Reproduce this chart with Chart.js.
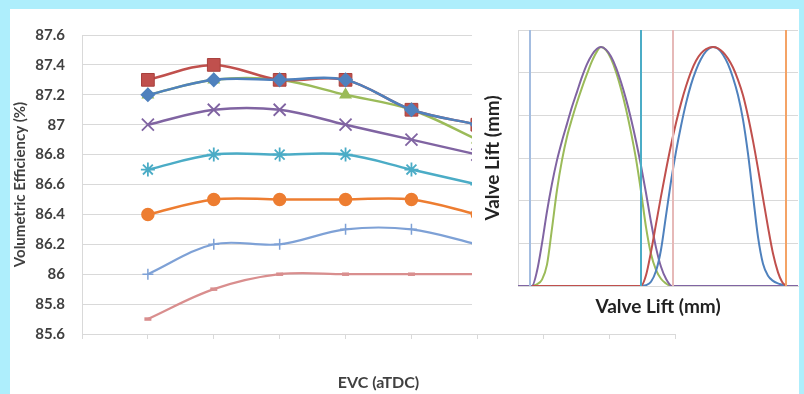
<!DOCTYPE html>
<html><head><meta charset="utf-8">
<script src="https://cdn.jsdelivr.net/npm/chart.js@4/dist/chart.umd.min.js"></script>
<style>
html,body{margin:0;padding:0;background:#aeeefc;width:804px;height:394px;overflow:hidden}
#panel{position:absolute;left:10px;top:9px;width:789px;height:385px;background:#fff}
#main{position:absolute;left:0;top:0}
#insetBox{position:absolute;left:462px;top:0;width:327px;height:318px;background:#fff}
</style></head><body>
<div id="panel">
  <canvas id="main" width="789" height="385"></canvas>
  <div id="insetBox"><canvas id="inset" width="327" height="318"></canvas></div>
</div>
<script>
// ---- main chart data ----
const evcPositions = [1, 2, 3, 4, 5, 6];
const seriesBlueDiamond = [87.2, 87.3, 87.3, 87.3, 87.1, 87.0];
const seriesRedSquare   = [87.3, 87.4, 87.3, 87.3, 87.1, 87.0];
const seriesGreenTri    = [87.2, 87.3, 87.3, 87.2, 87.1, 86.9];
const seriesPurpleX     = [87.0, 87.1, 87.1, 87.0, 86.9, 86.8];
const seriesTealStar    = [86.7, 86.8, 86.8, 86.8, 86.7, 86.6];
const seriesOrangeDot   = [86.4, 86.5, 86.5, 86.5, 86.5, 86.4];
const seriesLightBlue   = [86.0, 86.2, 86.2, 86.3, 86.3, 86.2];
const seriesPink        = [85.7, 85.9, 86.0, 86.0, 86.0, 86.0];
const yMin = 85.6, yMax = 87.6, yStep = 0.2;

// ---- inset (valve lift) data ----
const purpleLiftX = [0, 14, 19, 24, 29, 34, 39, 44, 49, 54, 59, 64, 69, 74, 79, 83, 88, 93, 98, 103, 108, 113, 118, 123, 128, 133, 138, 143, 148, 154, 280];
const purpleLiftY = [0, 0, 0.35, 1.0, 1.75, 2.4, 2.95, 3.4, 3.8, 4.2, 4.55, 4.9, 5.2, 5.42, 5.56, 5.6, 5.54, 5.38, 5.12, 4.78, 4.38, 3.92, 3.4, 2.82, 2.18, 1.5, 0.9, 0.45, 0.17, 0, 0];
const greenLiftX  = [14, 19, 24, 29, 34, 39, 44, 49, 54, 59, 64, 69, 74, 79, 83, 88, 93, 98, 103, 108, 113, 118, 123, 128, 133, 138, 143, 148, 152];
const greenLiftY  = [0, 0.04, 0.15, 0.5, 1.35, 2.25, 2.95, 3.5, 3.92, 4.3, 4.65, 4.97, 5.27, 5.5, 5.6, 5.53, 5.33, 5.02, 4.62, 4.15, 3.6, 2.98, 2.22, 1.38, 0.75, 0.38, 0.17, 0.06, 0];
const redLiftX    = [14, 123, 128, 133, 138, 143, 148, 153, 158, 163, 168, 173, 178, 183, 188, 195, 200, 205, 210, 215, 220, 225, 230, 235, 240, 245, 250, 255, 260, 264, 268];
const redLiftY    = [0, 0, 0.25, 0.8, 1.45, 2.1, 2.72, 3.3, 3.82, 4.28, 4.68, 5.02, 5.28, 5.45, 5.55, 5.6, 5.57, 5.48, 5.33, 5.12, 4.83, 4.47, 3.98, 3.4, 2.75, 2.06, 1.38, 0.76, 0.32, 0.1, 0];
const blueLiftX   = [123, 128, 133, 138, 143, 148, 153, 158, 163, 168, 173, 178, 183, 188, 195, 200, 205, 210, 215, 220, 225, 230, 235, 240, 245, 250, 255, 260, 264, 268];
const blueLiftY   = [0, 0.02, 0.1, 0.35, 0.85, 1.65, 2.45, 3.15, 3.75, 4.28, 4.72, 5.06, 5.32, 5.5, 5.6, 5.56, 5.42, 5.2, 4.88, 4.47, 3.9, 3.1, 2.12, 1.15, 0.52, 0.24, 0.12, 0.06, 0.03, 0];
const timingMarks = [12, 123, 155, 268];
const timingColors = ['#a4bde0', '#4bacc6', '#e6b9b8', '#f4a366'];
const liftMax = 6;

const FONT = 'Lato, "Open Sans", sans-serif';
const TXT = '#404040';
const GRID = '#d9d9d9';

function pts(ys) { return ys.map((v, i) => ({x: evcPositions[i], y: v})); }
function xy(xs, ys) { return xs.map((v, i) => ({x: v, y: ys[i]})); }

function mainDs(label, ys, color, style, radius, extra) {
  return Object.assign({
    label, data: pts(ys), borderColor: color, backgroundColor: color,
    pointBackgroundColor: color, pointBorderColor: color,
    pointStyle: style, pointRadius: radius, pointHoverRadius: radius,
    borderWidth: 2.5, pointBorderWidth: 1.5, tension: 0.35, fill: false
  }, extra || {});
}

new Chart(document.getElementById('main'), {
  type: 'line',
  data: {
    datasets: [
      mainDs('Blue', seriesBlueDiamond, '#4f81bd', 'rectRot', 6.5),
      mainDs('Red', seriesRedSquare, '#c0504d', 'rect', 9, {pointBorderColor: '#a8403d', pointBorderWidth: 1}),
      mainDs('Green', seriesGreenTri, '#9bbb59', 'triangle', 6),
      mainDs('Purple', seriesPurpleX, '#8064a2', 'crossRot', 8.5, {pointBorderWidth: 1.8}),
      mainDs('Teal', seriesTealStar, '#4bacc6', 'star', 7, {pointBorderWidth: 1.8}),
      mainDs('Orange', seriesOrangeDot, '#ed7d31', 'circle', 6),
      mainDs('LightBlue', seriesLightBlue, '#7ea1d6', 'cross', 5.5, {borderWidth: 2.2, pointBorderWidth: 1.5}),
      mainDs('Pink', seriesPink, '#d98e8e', 'line', 3.5, {borderWidth: 2.2, pointBorderWidth: 3.5})
    ]
  },
  options: {
    responsive: false, animation: false, devicePixelRatio: 1,
    layout: {padding: {top: 16, right: 124, left: 0, bottom: 0}},
    plugins: {legend: {display: false}, tooltip: {enabled: false}},
    scales: {
      x: {
        type: 'linear', min: 0, max: 9,
        ticks: {stepSize: 1, display: false},
        grid: {drawOnChartArea: false, drawTicks: true, tickLength: 5, color: GRID},
        border: {color: GRID},
        title: {display: true, text: 'EVC (aTDC)', color: TXT,
          font: {family: FONT, size: 16, weight: 'bold'}, padding: {top: 30, bottom: 1.4}},
        afterFit: s => { s.height = 60; }
      },
      y: {
        min: yMin, max: yMax,
        ticks: {stepSize: yStep, color: TXT, padding: 17,
          font: {family: FONT, size: 15, weight: 'bold'},
          callback: v => String(Number(v.toFixed(1)))},
        grid: {color: GRID, drawTicks: false},
        border: {color: GRID},
        title: {display: true, text: 'Volumetric Efficiency (%)', color: TXT,
          font: {family: FONT, size: 15, weight: 'bold'}, padding: {top: 1, bottom: 2}},
        afterFit: s => { s.width = 72; }
      }
    }
  }
});

function liftDs(xs, ys, color) {
  return {data: xy(xs, ys), borderColor: color, borderWidth: 2, pointRadius: 0,
    cubicInterpolationMode: 'monotone', fill: false};
}
const insetSets = timingMarks.map((m, i) => ({
  data: [{x: m, y: 0}, {x: m, y: liftMax}], borderColor: timingColors[i],
  borderWidth: 2, pointRadius: 0, fill: false
}));
insetSets.push(liftDs(redLiftX, redLiftY, '#c0504d'));
insetSets.push(liftDs(blueLiftX, blueLiftY, '#4f81bd'));
insetSets.push(liftDs(purpleLiftX, purpleLiftY, '#8064a2'));
insetSets.push(liftDs(greenLiftX, greenLiftY, '#9bbb59'));

new Chart(document.getElementById('inset'), {
  type: 'line',
  data: {datasets: insetSets},
  options: {
    responsive: false, animation: false, devicePixelRatio: 1,
    layout: {padding: {top: 21, right: 1, left: 0, bottom: 0}},
    plugins: {legend: {display: false}, tooltip: {enabled: false}},
    scales: {
      x: {
        type: 'linear', min: 0, max: 280,
        ticks: {display: false},
        grid: {display: false},
        border: {color: GRID},
        title: {display: true, text: 'Valve Lift (mm)', color: '#222',
          font: {family: FONT, size: 19, weight: 'bold'}, padding: {top: 4, bottom: 9}},
        afterFit: s => { s.height = 41; }
      },
      y: {
        min: 0, max: liftMax,
        ticks: {display: false, stepSize: 1},
        grid: {color: GRID, drawTicks: false},
        border: {color: GRID},
        title: {display: true, text: 'Valve Lift (mm)', color: '#222',
          font: {family: FONT, size: 19, weight: 'bold'}, padding: {top: 9.6, bottom: 2}},
        afterFit: s => { s.width = 46; }
      }
    }
  }
});
</script>
</body></html>
